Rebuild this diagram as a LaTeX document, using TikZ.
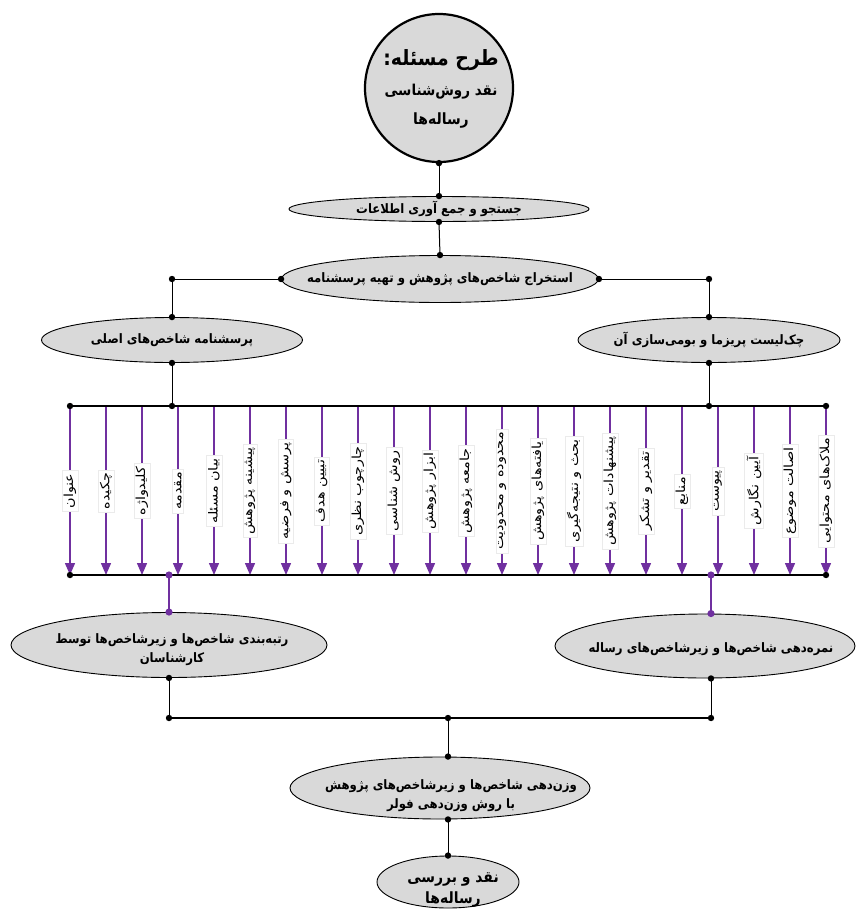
\documentclass[tikz,border=0pt]{standalone}
\usepackage{fontspec}
\usetikzlibrary{arrows.meta,shapes.geometric,calc}
\TeXXeTstate=1
\newfontfamily\pfont[Script=Arabic]{DejaVu Sans}
\newfontfamily\pfontc[Script=Arabic,FakeStretch=0.9]{DejaVu Sans}
\newfontfamily\pfontw[Script=Arabic,FakeStretch=1.15]{DejaVu Sans}
\newcommand{\PT}[1]{\beginR #1\endR}
\newcommand{\dotat}[1]{\fill #1 circle (3.2pt);}
\newcommand{\pdotat}[1]{\fill[purp] #1 circle (3.6pt);}
\definecolor{shade}{HTML}{D9D9D9}
\definecolor{purp}{HTML}{7030A0}
\tikzset{
 ell/.style={ellipse, draw=black, line width=0.9pt, fill=shade, inner sep=0pt},
 etext/.style={font=\pfontc\bfseries\fontsize{13}{19}\selectfont, align=center, inner sep=0pt},
 conn/.style={draw=black, line width=1pt},
 pconn/.style={draw=purp, line width=1.5pt},
 bar/.style={draw=black, line width=1.6pt},
 arr/.style={draw=purp, line width=1.4pt, -{Triangle[width=10pt,length=12pt]}},
 lbl/.style={rotate=90, fill=white, draw=black!8, inner xsep=3pt, inner ysep=2pt, font=\pfontw\fontsize{12.5}{14}\selectfont},
}
\begin{document}
\begin{tikzpicture}[x=1pt,y=-1pt]
\useasboundingbox (0,0) rectangle (860,913);
\fill[white] (0,0) rectangle (860,913);

% top circle
\node[circle, draw=black, line width=2.2pt, fill=shade, minimum size=148pt, inner sep=0pt] (c0) at (439,88) {};
\node[etext, font=\pfontc\bfseries\fontsize{21}{24}\selectfont] (c0a) at (441,60) {\PT{طرح مسئله:}};
\node[etext, font=\pfontc\bfseries\fontsize{15}{18}\selectfont] (c0b) at (441,92) {\PT{نقد روش^^^^200cشناسی}};
\node[etext, font=\pfontc\bfseries\fontsize{15.5}{18}\selectfont] (c0c) at (441,121) {\PT{رساله^^^^200cها}};

% ellipses
\node[ell, minimum width=300pt, minimum height=25pt] (e1) at (439,209) {};
\node[etext] (e1t) at (439,209) {\PT{جستجو و جمع آوری اطلاعات}};
\node[ell, minimum width=317pt, minimum height=47pt] (e2) at (440,279) {};
\node[etext] (e2t) at (440,279) {\PT{استخراج شاخص^^^^200cهای پژوهش و تهیه پرسشنامه}};
\node[ell, minimum width=261pt, minimum height=45pt] (e3) at (172,340) {};
\node[etext] (e3t) at (172,340) {\PT{پرسشنامه شاخص^^^^200cهای اصلی}};
\node[ell, minimum width=262pt, minimum height=45pt] (e4) at (709,340) {};
\node[etext] (e4t) at (709,340) {\PT{چک^^^^200cلیست پریزما و بومی^^^^200cسازی آن}};
\node[ell, minimum width=316pt, minimum height=65pt] (e5) at (169,645) {};
\node[etext] (e5t) at (172,650) {\PT{رتبه^^^^200cبندی شاخص^^^^200cها و زیرشاخص^^^^200cها توسط}\\\PT{کارشناسان}};
\node[ell, minimum width=300pt, minimum height=64pt] (e6) at (705,646) {};
\node[etext] (e6t) at (711,649) {\PT{نمره^^^^200cدهی شاخص^^^^200cها و زیرشاخص^^^^200cهای رساله}};
\node[ell, minimum width=300pt, minimum height=62pt] (e7) at (440,788) {};
\node[etext] (e7t) at (451,796) {\PT{وزن^^^^200cدهی شاخص^^^^200cها و زیرشاخص^^^^200cهای پژوهش}\\\PT{با روش وزن^^^^200cدهی فولر}};
\node[ell, minimum width=142pt, minimum height=52pt] (e8) at (448,882) {};
\node[etext, font=\pfontc\bfseries\fontsize{15.5}{21}\selectfont] (e8t) at (453,890) {\PT{نقد و بررسی}\\\PT{رساله^^^^200cها}};

% coordinates
\coordinate (j1) at (172,279);
\coordinate (j2) at (709,279);
\foreach \i in {0,...,21}{
  \coordinate (t\i) at ({70+36*\i},406);
  \coordinate (b\i) at ({70+36*\i},575);
}
\coordinate (p1) at (169,575);
\coordinate (p2) at (711,575);
\coordinate (l1) at (169,718);
\coordinate (l2) at (711,718);
\coordinate (lm) at (448,718);

% upper connectors
\draw[conn] (c0.south) -- (e1.north);
\draw[conn] (e1.south) -- (e2.north);
\draw[conn] (e2.west) -- (j1) -- (e3.north);
\draw[conn] (e2.east) -- (j2) -- (e4.north);
\draw[conn] (e3.south) -- (e3.south |- t0);
\draw[conn] (e4.south) -- (e4.south |- t0);

% arrows and labels
\foreach \i in {0,...,21}{ \draw[arr] (t\i) -- (b\i); }
\foreach \i/\t in {0/عنوان,1/چکیده,2/کلیدواژه,3/مقدمه,4/بیان مسئله,5/پیشینه پژوهش,6/پرسش و فرضیه,7/تبیین هدف,8/چارچوب نظری,9/روش شناسی,10/ابزار پژوهش,11/جامعه پژوهش,12/محدوده و محدودیت,13/یافته^^^^200cهای پژوهش,14/بحث و نتیجه^^^^200cگیری,15/پیشنهادات پژوهش,16/تقدیر و تشکر,17/منابع,18/پیوست,19/آیین نگارش,20/اصالت موضوع,21/ملاک^^^^200cهای محتوایی}{
  \node[lbl] (L\i) at ({70+36*\i},491) {\PT{\t}};
}
\draw[bar] (t0) -- (t21);
\draw[bar] (b0) -- (b21);

% lower connectors
\draw[pconn] (p1) -- (e5.north -| p1);
\draw[pconn] (p2) -- (e6.north -| p2);
\draw[conn] (e5.south -| l1) -- (l1);
\draw[conn] (e6.south -| l2) -- (l2);
\draw[bar, line width=2.4pt] (l1) -- (l2);
\draw[conn] (lm) -- (e7.north -| lm);
\draw[conn] (e7.south -| lm) -- (e8.north);

% dots
\dotat{(c0.south)} \dotat{(e1.north)} \dotat{(e1.south)} \dotat{(e2.north)}
\dotat{(e2.west)} \dotat{(e2.east)} \dotat{(j1)} \dotat{(j2)}
\dotat{(e3.north)} \dotat{(e3.south)} \dotat{(e4.north)} \dotat{(e4.south)}
\dotat{(e3.south |- t0)} \dotat{(e4.south |- t0)}
\dotat{(t0)} \dotat{(t21)} \dotat{(b0)} \dotat{(b21)}
\pdotat{(p1)} \pdotat{(p2)} \pdotat{(e5.north -| p1)} \pdotat{(e6.north -| p2)}
\dotat{(e5.south -| l1)} \dotat{(e6.south -| l2)}
\dotat{(l1)} \dotat{(l2)} \dotat{(lm)}
\dotat{(e7.north -| lm)} \dotat{(e7.south -| lm)} \dotat{(e8.north)}
\end{tikzpicture}
\end{document}
